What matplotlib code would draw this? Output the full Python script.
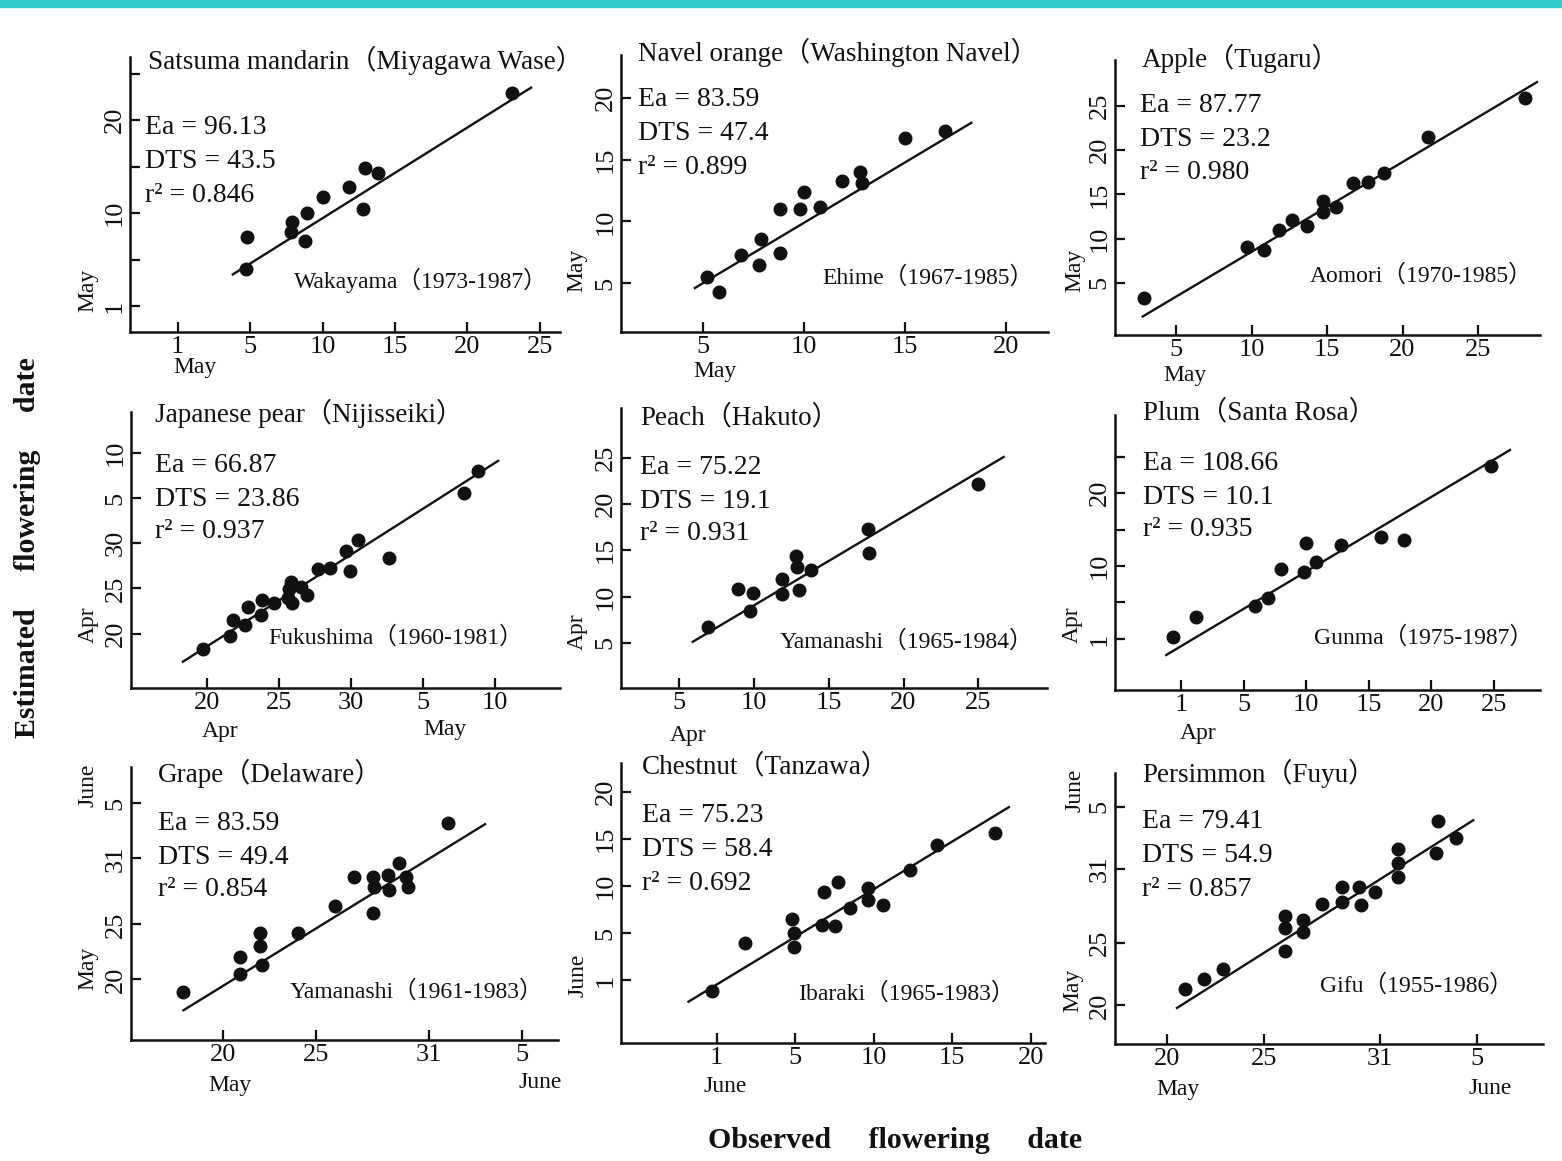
import matplotlib
matplotlib.use("Agg")
import matplotlib.pyplot as plt
from matplotlib.patches import Rectangle

plt.rcParams['font.family'] = ['Liberation Serif', 'Noto Sans CJK JP', 'DejaVu Sans']

W, H = 1562, 1161

# ---------------- data (day numbers; days past month end continue: May 31 -> June 5 = 36) ----------------
titles = ["Satsuma mandarin（Miyagawa Wase）", "Navel orange（Washington Navel）", "Apple（Tugaru）",
          "Japanese pear（Nijisseiki）", "Peach（Hakuto）", "Plum（Santa Rosa）",
          "Grape（Delaware）", "Chestnut（Tanzawa）", "Persimmon（Fuyu）"]
ea_values = ["96.13", "83.59", "87.77", "66.87", "75.22", "108.66", "83.59", "75.23", "79.41"]
dts_values = ["43.5", "47.4", "23.2", "23.86", "19.1", "10.1", "49.4", "58.4", "54.9"]
r2_values = ["0.846", "0.899", "0.980", "0.937", "0.931", "0.935", "0.854", "0.692", "0.857"]
locations = ["Wakayama（1973-1987）", "Ehime（1967-1985）", "Aomori（1970-1985）",
             "Fukushima（1960-1981）", "Yamanashi（1965-1984）", "Gunma（1975-1987）",
             "Yamanashi（1961-1983）", "Ibaraki（1965-1983）", "Gifu（1955-1986）"]

satsuma_obs = [4.8, 4.7, 7.9, 7.8, 8.9, 8.8, 10.0, 11.8, 12.9, 13.8, 12.8, 23.1]
satsuma_est = [7.4, 4.0, 9.0, 8.0, 10.0, 7.0, 11.7, 12.8, 14.9, 14.3, 10.4, 22.9]
satsuma_line_obs = [3.8, 24.4]
satsuma_line_est = [3.4, 23.5]

navel_obs = [5.2, 5.8, 6.9, 7.8, 7.9, 8.8, 8.8, 9.8, 10.0, 10.8, 11.9, 12.8, 12.9, 15.0, 17.0]
navel_est = [5.5, 4.3, 7.3, 6.5, 8.6, 7.4, 11.0, 11.0, 12.4, 11.2, 13.3, 14.0, 13.1, 16.8, 17.3]
navel_line_obs = [4.6, 18.3]
navel_line_est = [4.6, 18.0]

apple_obs = [2.9, 9.7, 10.8, 11.8, 12.7, 13.7, 14.7, 14.7, 15.6, 16.7, 17.7, 18.8, 21.7, 28.1]
apple_est = [3.3, 9.1, 8.7, 11.0, 12.1, 11.4, 14.2, 13.0, 13.6, 16.3, 16.4, 17.4, 21.5, 25.9]
apple_line_obs = [2.8, 28.9]
apple_line_est = [1.2, 27.7]

pear_obs = [19.7, 21.6, 21.8, 22.6, 22.8, 23.75, 23.8, 24.6, 25.6, 25.7, 25.8, 25.9, 26.5, 26.9,
            27.7, 28.5, 29.6, 29.9, 30.5, 32.6, 37.8, 38.8]
pear_est = [18.3, 19.8, 21.5, 21.0, 23.0, 22.1, 23.7, 23.4, 24.0, 24.9, 25.7, 23.4, 25.2, 24.3,
            27.1, 27.3, 29.1, 26.9, 30.4, 28.4, 35.5, 38.0]
pear_line_obs = [18.3, 40.2]
pear_line_est = [16.9, 39.1]

peach_obs = [6.9, 8.9, 9.9, 9.7, 11.9, 11.9, 12.8, 12.9, 13.0, 13.8, 17.6, 17.7, 25.0]
peach_est = [6.7, 10.8, 10.4, 8.4, 10.3, 11.9, 14.4, 13.2, 10.7, 12.9, 17.3, 14.7, 22.2]
peach_line_obs = [5.9, 26.7]
peach_line_est = [5.1, 25.1]

plum_obs = [-0.7, 1.2, 5.9, 6.9, 8.0, 9.8, 10.0, 10.8, 12.8, 16.0, 17.8, 24.8]
plum_est = [0.3, 3.0, 4.5, 5.6, 9.6, 9.2, 13.2, 10.5, 12.9, 14.0, 13.6, 23.7]
plum_line_obs = [-1.2, 26.3]
plum_line_est = [-2.2, 25.9]

grape_obs = [17.9, 20.9, 20.9, 22.0, 22.0, 22.1, 24.0, 26.0, 27.0, 28.0, 28.0, 28.1, 28.8, 28.9,
             29.4, 29.8, 29.9, 32.0]
grape_est = [18.9, 22.0, 20.5, 24.2, 23.0, 21.3, 24.2, 26.7, 29.3, 26.0, 29.3, 28.4, 29.5, 28.1,
             30.6, 29.3, 28.4, 34.2]
grape_line_obs = [17.9, 34.0]
grape_line_est = [17.2, 34.1]

chestnut_obs = [-0.3, 1.8, 4.8, 4.9, 4.9, 6.8, 6.7, 7.7, 7.5, 8.5, 9.6, 9.6, 10.6, 12.3, 14.0, 17.7]
chestnut_est = [-1.2, 3.9, 6.5, 5.0, 3.5, 9.4, 5.9, 10.4, 5.7, 7.7, 9.8, 8.5, 8.0, 11.7, 14.4, 15.7]
chestnut_line_obs = [-1.8, 18.6]
chestnut_line_est = [-2.3, 18.4]

persimmon_obs = [20.9, 21.9, 22.9, 26.1, 26.1, 26.1, 27.0, 27.0, 28.0, 29.0, 29.0, 29.9, 30.0,
                 30.7, 31.9, 31.9, 31.9, 34.0, 33.9, 34.9]
persimmon_est = [21.3, 22.1, 22.9, 27.2, 26.2, 24.4, 26.9, 25.9, 28.2, 29.5, 28.3, 29.5, 28.1,
                 29.1, 32.6, 31.5, 30.3, 34.8, 32.3, 33.5]
persimmon_line_obs = [20.5, 35.8]
persimmon_line_est = [19.8, 34.9]

# tick values and labels
ticks_0_25 = [0, 5, 10, 15, 20, 25]
ticks_5_25 = [5, 10, 15, 20, 25]
ticks_5_20 = [5, 10, 15, 20]
ticks_0_20 = [0, 5, 10, 15, 20]
ticks_apr_may = [20, 25, 30, 35, 40]
ticks_may_june = [20, 25, 31, 36]
labels_0_25 = ["1", "5", "10", "15", "20", "25"]
labels_0_25_sparse = ["1", "", "10", "", "20", ""]
labels_5_25 = ["5", "10", "15", "20", "25"]
labels_5_20 = ["5", "10", "15", "20"]
labels_0_20 = ["1", "5", "10", "15", "20"]
labels_apr_may = ["20", "25", "30", "5", "10"]
labels_may_june = ["20", "25", "31", "5"]

panels = [
    dict(obs=satsuma_obs, est=satsuma_est, lx=satsuma_line_obs, ly=satsuma_line_est,
         xt=ticks_0_25, xl=labels_0_25, yt=ticks_0_25, yl=labels_0_25_sparse),
    dict(obs=navel_obs, est=navel_est, lx=navel_line_obs, ly=navel_line_est,
         xt=ticks_5_20, xl=labels_5_20, yt=ticks_5_20, yl=labels_5_20),
    dict(obs=apple_obs, est=apple_est, lx=apple_line_obs, ly=apple_line_est,
         xt=ticks_5_25, xl=labels_5_25, yt=ticks_5_25, yl=labels_5_25),
    dict(obs=pear_obs, est=pear_est, lx=pear_line_obs, ly=pear_line_est,
         xt=ticks_apr_may, xl=labels_apr_may, yt=ticks_apr_may, yl=labels_apr_may),
    dict(obs=peach_obs, est=peach_est, lx=peach_line_obs, ly=peach_line_est,
         xt=ticks_5_25, xl=labels_5_25, yt=ticks_5_25, yl=labels_5_25),
    dict(obs=plum_obs, est=plum_est, lx=plum_line_obs, ly=plum_line_est,
         xt=ticks_0_25, xl=labels_0_25, yt=ticks_0_25, yl=labels_0_25_sparse),
    dict(obs=grape_obs, est=grape_est, lx=grape_line_obs, ly=grape_line_est,
         xt=ticks_may_june, xl=labels_may_june, yt=ticks_may_june, yl=labels_may_june),
    dict(obs=chestnut_obs, est=chestnut_est, lx=chestnut_line_obs, ly=chestnut_line_est,
         xt=ticks_0_20, xl=labels_0_20, yt=ticks_0_20, yl=labels_0_20),
    dict(obs=persimmon_obs, est=persimmon_est, lx=persimmon_line_obs, ly=persimmon_line_est,
         xt=ticks_may_june, xl=labels_may_june, yt=ticks_may_june, yl=labels_may_june),
]

# ---------------- layout (pixels) ----------------
rects = [(130, 57, 560, 332), (621, 55, 1048, 332), (1115, 60, 1540, 335),
         (131, 412, 560, 688), (621, 408, 1047, 688), (1115, 415, 1540, 690),
         (131, 767, 558, 1040), (621, 763, 1045, 1043), (1115, 773, 1543, 1044)]
xlims = [(-3.3, 26.4), (0.94, 22.1), (0.96, 29.1), (14.7, 44.5), (1.1, 29.6), (-5.3, 28.7),
         (15.1, 37.9), (-6.1, 20.9), (17.3, 39.4)]
ylims = [(-2.8, 26.8), (1.03, 23.5), (-0.9, 30.2), (14.0, 44.5), (0.1, 30.4), (-7.0, 30.7),
         (14.5, 39.3), (-6.7, 23.1), (16.9, 38.7)]
title_pos = [(148, 60), (638, 52), (1142, 58), (155, 413), (640, 418), (1143, 413),
             (158, 773), (642, 767), (1142, 773)]
stats_pos = [(145, 128), (638, 100), (1140, 106), (155, 465), (640, 467), (1143, 463),
             (158, 823), (642, 816), (1142, 822)]
loc_pos = [(548, 280), (1033, 278), (1533, 275), (523, 637), (1033, 642), (1533, 637),
           (543, 992), (1015, 993), (1513, 985)]
month_labels = [  # (x, y, text, rotation)
    (88, 290, "May", 90), (195, 368, "May", 0),
    (577, 270, "May", 90), (715, 372, "May", 0),
    (1075, 270, "May", 90), (1185, 375, "May", 0),
    (88, 625, "Apr", 90), (220, 732, "Apr", 0), (445, 730, "May", 0),
    (577, 632, "Apr", 90), (688, 735, "Apr", 0),
    (1072, 625, "Apr", 90), (1198, 733, "Apr", 0),
    (88, 785, "June", 90), (88, 968, "May", 90), (230, 1085, "May", 0), (540, 1082, "June", 0),
    (578, 975, "June", 90), (725, 1087, "June", 0),
    (1075, 790, "June", 90), (1073, 990, "May", 90), (1178, 1090, "May", 0), (1490, 1088, "June", 0),
]

def fx(x):
    return x / W

def fy(y):
    return 1 - y / H

fig = plt.figure(figsize=(W / 100, H / 100), dpi=100)
fig.patch.set_facecolor("white")

# teal band at the top
fig.patches.append(Rectangle((0, fy(7)), 1, 7 / H, transform=fig.transFigure,
                             color="#33CACB", zorder=0))

ink = "#111111"
for i, p in enumerate(panels):
    l, t, r, b = rects[i]
    ax = fig.add_axes([fx(l), fy(b), (r - l) / W, (b - t) / H])
    ax.set_facecolor("none")
    ax.scatter(p["obs"], p["est"], s=82, color=ink, zorder=3, clip_on=False)
    ax.plot(p["lx"], p["ly"], color=ink, lw=1.7, zorder=2)
    ax.set_xlim(*xlims[i])
    ax.set_ylim(*ylims[i])
    ax.set_xticks(p["xt"])
    ax.set_xticklabels(p["xl"], fontsize=19)
    ax.set_yticks(p["yt"])
    ax.set_yticklabels(p["yl"], fontsize=19, rotation=90, va="center")
    for s in ("top", "right"):
        ax.spines[s].set_visible(False)
    for s in ("left", "bottom"):
        ax.spines[s].set_linewidth(1.8)
        ax.spines[s].set_color(ink)
    ax.tick_params(direction="in", length=7, width=1.6, colors=ink, pad=3)

    tx, ty = title_pos[i]
    fig.text(fx(tx), fy(ty), titles[i], fontsize=19.5, ha="left", va="center", color=ink)
    sx, sy = stats_pos[i]
    fig.text(fx(sx), fy(sy), "Ea = " + ea_values[i], fontsize=20, ha="left", va="center", color=ink)
    fig.text(fx(sx), fy(sy + 34), "DTS = " + dts_values[i], fontsize=20, ha="left", va="center", color=ink)
    fig.text(fx(sx), fy(sy + 67), "r² = " + r2_values[i], fontsize=20, ha="left", va="center", color=ink)
    lx_, ly_ = loc_pos[i]
    fig.text(fx(lx_), fy(ly_), locations[i], fontsize=17, ha="right", va="center", color=ink)

for x, y, txt, rot in month_labels:
    fig.text(fx(x), fy(y), txt, fontsize=17, ha="center", va="center", rotation=rot, color=ink)

fig.text(fx(28), fy(548), "Estimated     flowering     date", fontsize=21.5, fontweight="bold",
         rotation=90, ha="center", va="center", color=ink)
fig.text(fx(895), fy(1141), "Observed     flowering     date", fontsize=21.5, fontweight="bold",
         ha="center", va="center", color=ink)

fig.savefig("out.png", dpi=100, facecolor="white")
